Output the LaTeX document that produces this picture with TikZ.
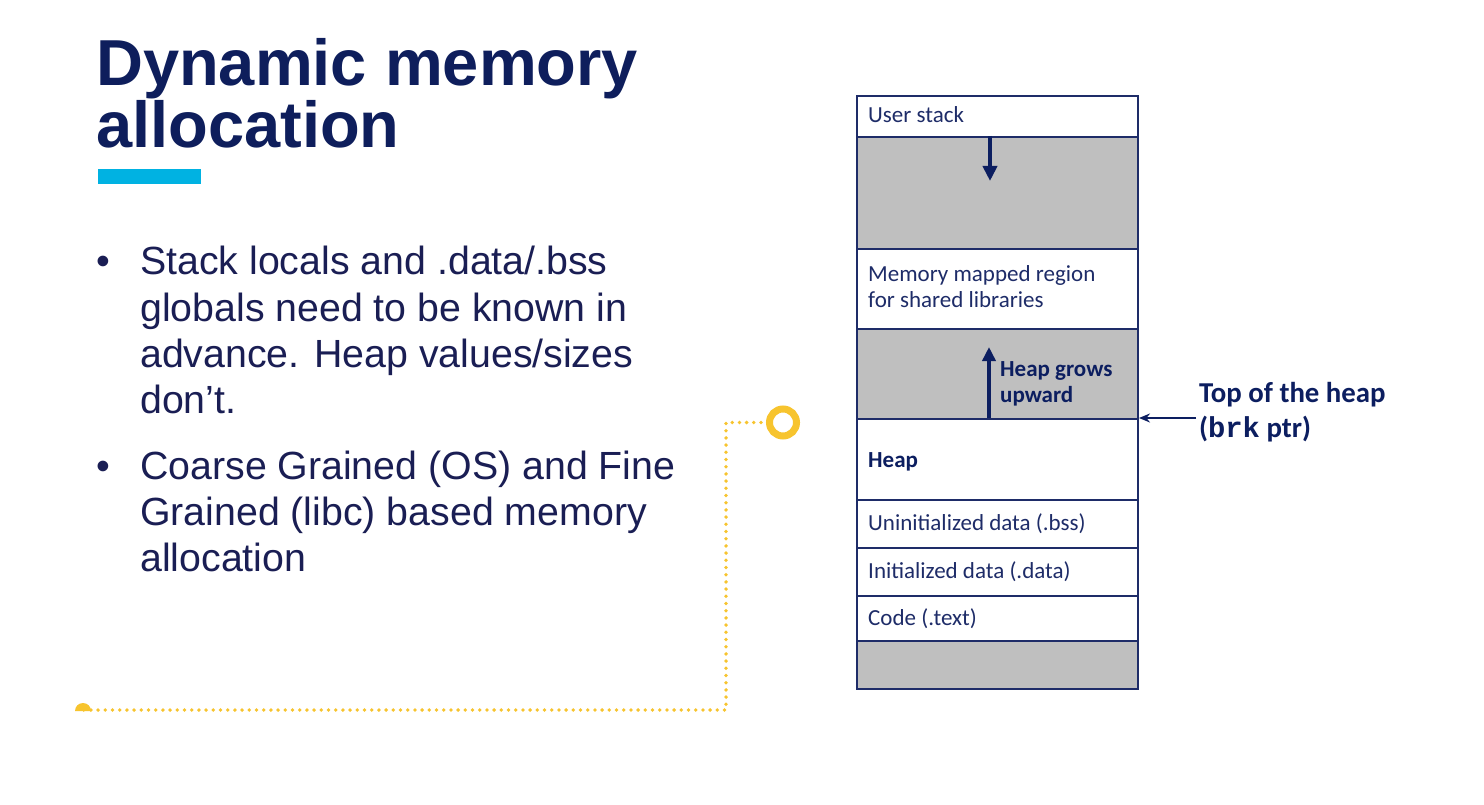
\documentclass[tikz,border=0pt]{standalone}
\usepackage{fontspec}
\setmainfont{Liberation Sans}
\newfontfamily\calib{Carlito}
\newfontfamily\monob{Liberation Mono}
\usetikzlibrary{arrows.meta}

\definecolor{titleblue}{RGB}{14,30,92}
\definecolor{bodyblue}{RGB}{26,30,84}
\definecolor{edgeblue}{RGB}{30,44,104}
\definecolor{arrowblue}{RGB}{12,30,96}
\definecolor{fillgray}{RGB}{191,191,191}
\definecolor{accent}{RGB}{0,178,226}
\definecolor{gold}{RGB}{247,196,46}

\begin{document}
\begin{tikzpicture}[x=1pt,y=-1pt,
  titleline/.style={anchor=base west,inner sep=0,text=titleblue,
    font=\fontsize{65}{70}\selectfont\bfseries},
  bodyline/.style={anchor=base west,inner sep=0,text=bodyblue,
    font=\fontsize{39.3}{46}\selectfont},
  seg/.style={draw=edgeblue,line width=2pt,minimum width=281pt,
    inner sep=0,anchor=north west},
  gapseg/.style={seg,fill=fillgray},
  lbl/.style={anchor=base west,inner sep=0,text=edgeblue,
    font=\calib\fontsize{23}{27}\selectfont},
  blbl/.style={lbl,text=arrowblue,font=\calib\bfseries\fontsize{23}{27}\selectfont},
  growarrow/.style={draw=arrowblue,line width=4pt,
    -{Triangle[length=15pt,width=14pt]}},
  dotline/.style={draw=gold,line width=3.8pt,line cap=round,
    dash pattern=on 0pt off 7.2pt}
]
\useasboundingbox (0,0) rectangle (1484,805);
\fill[white] (0,0) rectangle (1484,805);

% title and accent bar
\node[titleline] (t1) at (96,86) {Dynamic memory};
\node[titleline] (t2) at (96,148) {allocation};
\fill[accent] (98,169) rectangle (201,184);

% bullet points
\node[bodyline] (b1) at (96,275) {•};
\node[bodyline] (l1) at (140,275) {Stack locals and .data/.bss};
\node[bodyline] (l2) at (140,321) {globals need to be known in};
\node[bodyline] (l3) at (140,367) {advance. Heap values/sizes};
\node[bodyline] (l4) at (140,413) {don’t.};
\node[bodyline] (b2) at (96,479) {•};
\node[bodyline] (l5) at (140,479) {Coarse Grained (OS) and Fine};
\node[bodyline] (l6) at (140,525) {Grained (libc) based memory};
\node[bodyline] (l7) at (140,571) {allocation};

% decorative dotted connector
\node[circle,draw=gold,line width=7pt,minimum size=27pt,inner sep=0] (ring) at (783,422.5) {};
\coordinate (corner1) at (726,422.5);
\coordinate (corner2) at (726,710);
\coordinate (dotend) at (83,710);
\draw[dotline] (ring.west) ++(-5,0) -- (corner1) -- (corner2) -- (dotend);
\fill[gold] (75,711) arc[start angle=180,end angle=0,radius=8pt] -- cycle;

% memory layout column
\node[seg,minimum height=41pt] (ustack) at (856,95) {};
\node[gapseg,minimum height=112pt] (gapa) at (856,136) {};
\node[seg,minimum height=80pt] (mmap) at (856,248) {};
\node[gapseg,minimum height=90pt] (gapb) at (856,328) {};
\node[seg,minimum height=81pt] (heap) at (856,418) {};
\node[seg,minimum height=48pt] (bss) at (856,499) {};
\node[seg,minimum height=48pt] (data) at (856,547) {};
\node[seg,minimum height=45pt] (text) at (856,595) {};
\node[gapseg,minimum height=48pt] (gapc) at (856,640) {};

\node[lbl] (lstack) at (868,123) {User stack};
\node[lbl] (lmmap1) at (868,281) {Memory mapped region};
\node[lbl] (lmmap2) at (868,308) {for shared libraries};
\node[blbl] (lheap) at (868,467) {Heap};
\node[lbl] (lbss) at (868,530) {Uninitialized data (.bss)};
\node[lbl] (ldata) at (868,578) {Initialized data (.data)};
\node[lbl] (ltext) at (868,625) {Code (.text)};

% growth directions
\coordinate (stackend) at (990,181);
\draw[growarrow] (gapa.north -| stackend) -- (stackend);
\coordinate (heapend) at (989,347);
\draw[growarrow,-{Triangle[length=14pt,width=13pt]}] (heap.north -| heapend) -- (heapend);
\node[blbl] (grow1) at (1000,376) {Heap grows};
\node[blbl] (grow2) at (1000,402) {upward};

% break pointer label
\node[anchor=base west,inner sep=0,text=arrowblue,
  font=\calib\bfseries\fontsize{28.8}{34}\selectfont] (top1) at (1199,402) {Top of the heap};
\node[anchor=base west,inner sep=0,text=arrowblue,
  font=\calib\bfseries\fontsize{28.8}{34}\selectfont] (top2) at (1199,437)
  {({\monob\bfseries brk} ptr)};
\coordinate (brkfrom) at (1196,418);
\draw[draw=arrowblue,line width=1.6pt,-{Stealth[length=11pt,width=9pt]}]
  (brkfrom) -- (heap.north east);
\end{tikzpicture}
\end{document}
